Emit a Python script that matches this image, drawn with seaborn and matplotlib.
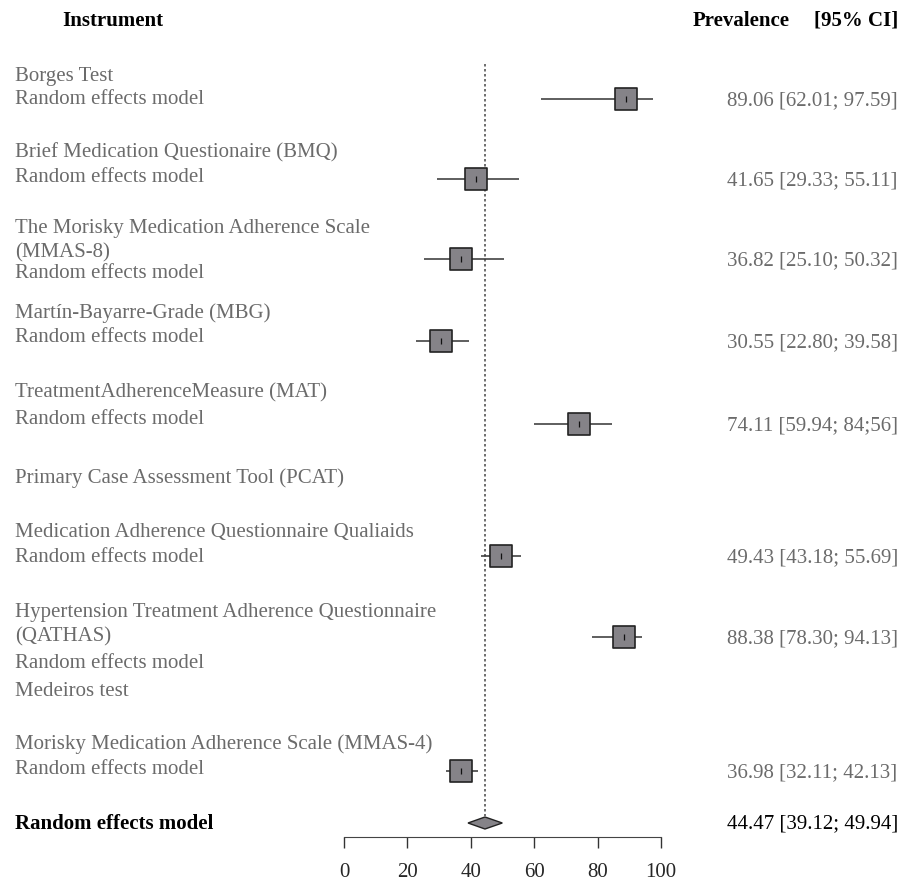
import seaborn as sns
import matplotlib.pyplot as plt
import pandas as pd
from matplotlib.transforms import blended_transform_factory

# Instruments (subgroups) and their pooled prevalence estimates
instruments = [
    "Borges Test",
    "Brief Medication Questionaire (BMQ)",
    "The Morisky Medication Adherence Scale\n(MMAS-8)",
    "Martín-Bayarre-Grade (MBG)",
    "TreatmentAdherenceMeasure (MAT)",
    "Medication Adherence Questionnaire Qualiaids",
    "Hypertension Treatment Adherence Questionnaire\n(QATHAS)",
    "Morisky Medication Adherence Scale (MMAS-4)",
]
estimate = [89.06, 41.65, 36.82, 30.55, 74.11, 49.43, 88.38, 36.98]
ci_low = [62.01, 29.33, 25.10, 22.80, 59.94, 43.18, 78.30, 32.11]
ci_high = [97.59, 55.11, 50.32, 39.58, 84.56, 55.69, 94.13, 42.13]
ci_labels = [
    "89.06 [62.01; 97.59]",
    "41.65 [29.33; 55.11]",
    "36.82 [25.10; 50.32]",
    "30.55 [22.80; 39.58]",
    "74.11 [59.94; 84;56]",
    "49.43 [43.18; 55.69]",
    "88.38 [78.30; 94.13]",
    "36.98 [32.11; 42.13]",
]
no_estimate = ["Primary Case Assessment Tool (PCAT)", "Medeiros test"]

overall_est = 44.47
overall_low = 39.12
overall_high = 49.94
overall_label = "44.47 [39.12; 49.94]"
x_ticks = [0, 20, 40, 60, 80, 100]

# layout (pixel rows, top = 0)
name_y = [76, 153, 241, 313, 393, 532, 625, 744]
rem_y = [100, 178, 273, 338, 420, 558, 663, 770]
mark_y = [99, 179, 259, 341, 424, 556, 637, 771]
text_mark_y = [101, 181, 261, 343, 426, 558, 639, 773]
no_est_y = [478, 692]
overall_y = 823

df = pd.DataFrame({"est": estimate, "lo": ci_low, "hi": ci_high, "y": mark_y})

sns.set_style("white")
plt.rcParams["font.family"] = ["Liberation Serif", "DejaVu Serif"]

grey_txt = "#6b6b6b"
fs = 15

fig = plt.figure(figsize=(9.01, 8.84), dpi=100)
ax = fig.add_axes([344 / 901, 0, 317 / 901, 1])
ax.set_xlim(0, 100)
ax.set_ylim(884, 0)
ax.patch.set_alpha(0)

# reference line at the overall estimate
ax.vlines(overall_est, 64, 816, color="#555555", linestyle=(0, (1.5, 1.5)), linewidth=1.2)

# confidence intervals and squares
ax.hlines(df["y"], df["lo"], df["hi"], color="#333333", linewidth=1.1)
sns.scatterplot(data=df, x="est", y="y", marker="s", s=235, color="#858388",
                edgecolor="#222222", linewidth=1.2, ax=ax, zorder=3)
sns.scatterplot(data=df, x="est", y="y", marker="|", s=20, color="#111111",
                linewidth=0.9, ax=ax, zorder=4)

# overall diamond
ax.fill([overall_low, overall_est, overall_high, overall_est],
        [overall_y, overall_y - 6, overall_y, overall_y + 6],
        facecolor="#858388", edgecolor="#222222", linewidth=1.0, zorder=3)

# bottom axis
for side in ["top", "left", "right"]:
    ax.spines[side].set_visible(False)
ax.spines["bottom"].set_position(("data", 837))
ax.spines["bottom"].set_bounds(0, 100)
ax.spines["bottom"].set_color("#444444")
ax.set_xticks(x_ticks)
ax.set_xticklabels([str(t) for t in x_ticks])
ax.tick_params(axis="x", direction="out", length=8, width=1, color="#333333",
               labelsize=fs, pad=11, bottom=True)
ax.set_yticks([])
ax.set_xlabel("")
ax.set_ylabel("")

tr = blended_transform_factory(fig.transFigure, ax.transData)
lx = 15 / 901
vx = 727 / 901

# headers
ax.text(62 / 901, 21, "Instrument", transform=tr, fontsize=fs, fontweight="bold",
        va="center", ha="left", color="black")
ax.text(693 / 901, 21, "Prevalence", transform=tr, fontsize=fs, fontweight="bold",
        va="center", ha="left", color="black")
ax.text(898 / 901, 21, "[95% CI]", transform=tr, fontsize=fs, fontweight="bold",
        va="center", ha="right", color="black")

for name, ny, ry, ty, lab in zip(instruments, name_y, rem_y, text_mark_y, ci_labels):
    ax.text(lx, ny, name, transform=tr, fontsize=fs, va="center", ha="left",
            color=grey_txt, linespacing=1.35)
    ax.text(lx, ry, "Random effects model", transform=tr, fontsize=fs,
            va="center", ha="left", color=grey_txt)
    ax.text(vx, ty, lab, transform=tr, fontsize=fs, va="center", ha="left", color=grey_txt)

for name, ny in zip(no_estimate, no_est_y):
    ax.text(lx, ny, name, transform=tr, fontsize=fs, va="center", ha="left", color=grey_txt)

ax.text(lx, overall_y + 1, "Random effects model", transform=tr, fontsize=fs,
        fontweight="bold", va="center", ha="left", color="black")
ax.text(vx, overall_y + 1, overall_label, transform=tr, fontsize=fs, va="center",
        ha="left", color="black")

fig.savefig("out.png", dpi=100)
